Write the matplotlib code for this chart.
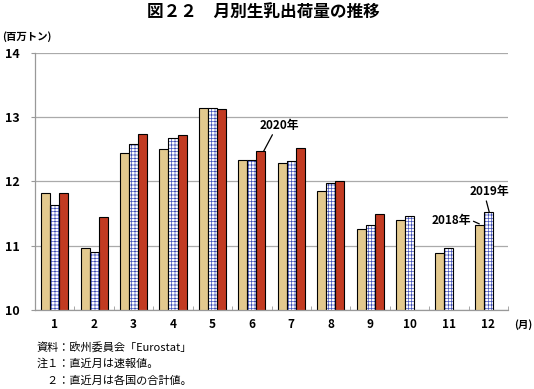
import numpy as np
import matplotlib
matplotlib.use("Agg")
import matplotlib.pyplot as plt

plt.rcParams['font.family'] = ['Noto Sans CJK JP', 'DejaVu Sans']
plt.rcParams['hatch.linewidth'] = 0.5

months = [str(m) for m in range(1, 13)]
v2018 = [11.82, 10.96, 12.44, 12.50, 13.15, 12.33, 12.28, 11.85, 11.26, 11.40, 10.88, 11.33]
v2019 = [11.63, 10.91, 12.58, 12.67, 13.14, 12.33, 12.32, 11.97, 11.33, 11.47, 10.96, 11.52]
v2020 = [11.82, 11.44, 12.74, 12.72, 13.12, 12.47, 12.52, 12.00, 11.49]
yticks = [10, 11, 12, 13, 14]

c2018 = '#E3C98E'
c2020 = '#C23B22'
chatch = '#3F4FB8'

fig = plt.figure(figsize=(5.34, 3.89), dpi=100)
ax = fig.add_axes([0.0655, 0.203, 0.886, 0.661])

x = np.arange(len(months))
w = 0.23
ax.bar(x - w, v2018, w, bottom=0, color=c2018, edgecolor='black', linewidth=0.8, zorder=3)
# hatched 2019 bars: hatch layer then black outline
ax.bar(x, v2019, w, color='white', edgecolor=chatch, hatch='+++++', linewidth=0, zorder=3)
ax.bar(x, v2019, w, color='none', edgecolor='black', linewidth=0.8, zorder=4)
x20 = np.arange(len(v2020))
ax.bar(x20 + w, v2020, w, color=c2020, edgecolor='black', linewidth=0.8, zorder=3)

ax.set_xlim(-0.5, 11.5)
ax.set_ylim(10, 14)
ax.set_yticks(yticks)
ax.set_yticklabels([str(t) for t in yticks], fontsize=9, fontweight='bold')
ax.set_xticks(x)
ax.set_xticklabels(months, fontsize=8.5, fontweight='bold')
ax.set_xticks(np.arange(-0.5, 12, 1), minor=True)
ax.tick_params(axis='x', which='major', length=0, pad=6)
ax.tick_params(axis='x', which='minor', length=3, color='#999999', direction='in')
ax.tick_params(axis='y', length=3, color='#999999', pad=8)
ax.grid(axis='y', color='#AAAAAA', linewidth=0.9, zorder=0)
for s in ['top', 'right']:
    ax.spines[s].set_visible(False)
for s in ['left', 'bottom']:
    ax.spines[s].set_color('#999999')
    ax.spines[s].set_linewidth(0.9)
ax.spines['bottom'].set_zorder(5)

# annotations
akw = dict(arrowstyle='-', color='black', lw=0.9, shrinkA=0, shrinkB=0)
ax.annotate('2020年', xy=(5 + w * 1.3, v2020[5]), xytext=(5.71, 12.77),
            ha='center', va='bottom', fontsize=8.5, fontweight='bold',
            arrowprops=dict(akw, relpos=(0.35, 0)))
ax.annotate('2019年', xy=(11 + w * 0.1, v2019[11]), xytext=(11.03, 11.74),
            ha='center', va='bottom', fontsize=8.5, fontweight='bold',
            arrowprops=dict(akw, relpos=(0.4, 0)))
ax.annotate('2018年', xy=(11 - w, v2018[11] + 0.01), xytext=(10.05, 11.40),
            ha='center', va='center', fontsize=8.5, fontweight='bold',
            arrowprops=dict(akw, relpos=(1.0, 0.5)))

fig.text(0.494, 0.968, '図２２　月別生乳出荷量の推移', ha='center', va='center',
         fontsize=12, fontweight='bold')
fig.text(0.004, 0.905, '(百万トン)', ha='left', va='center', fontsize=7.5, fontweight='bold')
fig.text(0.997, 0.165, '(月)', ha='right', va='center', fontsize=7.5, fontweight='bold')
notes = ['資料：欧州委員会「Eurostat」', '注１：直近月は速報値。', '　２：直近月は各国の合計値。']
for i, n in enumerate(notes):
    fig.text(0.068, 0.108 - i * 0.043, n, ha='left', va='center', fontsize=8)

fig.savefig('out.png', dpi=100)
